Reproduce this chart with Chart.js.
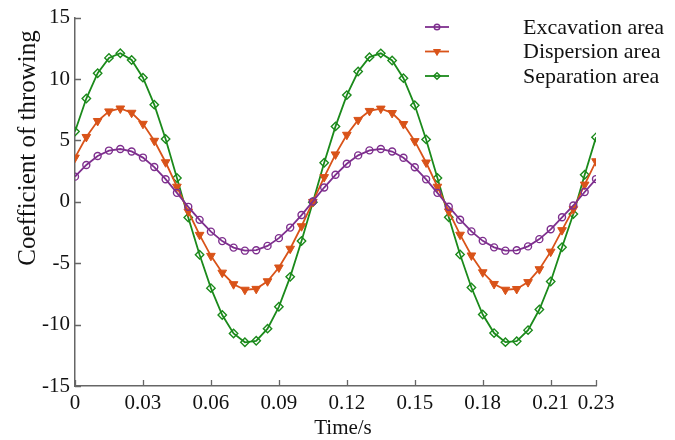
<!DOCTYPE html>
<html>
<head>
<meta charset="utf-8">
<script src="https://cdn.jsdelivr.net/npm/chart.js@4.4.1/dist/chart.umd.min.js"></script>
<style>
  html, body { margin: 0; padding: 0; background: #fff; }
  #wrap { width: 675px; height: 440px; }
</style>
</head>
<body>
<div id="wrap"><canvas id="chart" width="675" height="440"></canvas></div>
<script>
const TIME = [
  0, 0.005, 0.01, 0.015, 0.02, 0.025, 0.03, 0.035, 0.04, 0.045,
  0.05, 0.055, 0.06, 0.065, 0.07, 0.075, 0.08, 0.085, 0.09, 0.095,
  0.1, 0.105, 0.11, 0.115, 0.12, 0.125, 0.13, 0.135, 0.14, 0.145,
  0.15, 0.155, 0.16, 0.165, 0.17, 0.175, 0.18, 0.185, 0.19, 0.195,
  0.2, 0.205, 0.21, 0.215, 0.22, 0.225, 0.23
];
const EXCAVATION = [
  2.05, 3.00, 3.73, 4.17, 4.30, 4.10, 3.60, 2.83, 1.84, 0.73,
  -0.41, -1.47, -2.43, -3.20, -3.73, -3.98, -3.94, -3.59, -2.96, -2.10,
  -1.08, 0.03, 1.16, 2.20, 3.10, 3.78, 4.19, 4.30, 4.09, 3.59,
  2.81, 1.83, 0.73, -0.40, -1.46, -2.41, -3.18, -3.71, -3.98, -3.95,
  -3.63, -3.04, -2.24, -1.26, -0.30, 0.80, 1.85
];
const DISPERSION = [
  3.60, 5.28, 6.58, 7.36, 7.60, 7.25, 6.35, 4.97, 3.22, 1.23,
  -0.79, -2.69, -4.40, -5.77, -6.71, -7.16, -7.09, -6.47, -5.35, -3.82,
  -1.99, -0.01, 2.01, 3.86, 5.46, 6.67, 7.40, 7.59, 7.23, 6.33,
  4.94, 3.20, 1.23, -0.78, -2.68, -4.37, -5.74, -6.69, -7.16, -7.10,
  -6.54, -5.49, -4.06, -2.31, -0.60, 1.40, 3.30
];
const SEPARATION = [
  5.72, 8.41, 10.47, 11.72, 12.10, 11.55, 10.11, 7.91, 5.11, 1.94,
  -1.28, -4.31, -7.03, -9.22, -10.72, -11.44, -11.32, -10.33, -8.55, -6.11,
  -3.19, -0.03, 3.18, 6.14, 8.69, 10.61, 11.78, 12.09, 11.51, 10.07,
  7.86, 5.08, 1.94, -1.26, -4.29, -6.98, -9.18, -10.69, -11.43, -11.35,
  -10.45, -8.77, -6.49, -3.70, -1.00, 2.20, 5.25
];
const X_TICKS = [0, 0.03, 0.06, 0.09, 0.12, 0.15, 0.18, 0.21, 0.23];
const X_TICK_LABELS = ['0', '0.03', '0.06', '0.09', '0.12', '0.15', '0.18', '0.21', '0.23'];
const Y_TICKS = [-15, -10, -5, 0, 5, 10, 15];

const SERIES_NAMES = ['Excavation area', 'Dispersion area', 'Separation area'];
const COLORS = ['#7E2F8E', '#D95319', '#1B8A1B'];

const FONT = '"Liberation Serif", "Times New Roman", serif';
const AXIS_COLOR = '#666';

function points(values) {
  return TIME.map((t, i) => ({ x: t, y: values[i] }));
}

const markers = [
  { pointStyle: 'circle', radius: 3.5, rotation: 0, fill: 'rgba(255,255,255,0)', borderWidth: 1.4 },
  { pointStyle: 'triangle', radius: 5, rotation: 180, fill: COLORS[1], borderWidth: 1 },
  { pointStyle: 'rectRot', radius: 4.2, rotation: 0, fill: 'rgba(255,255,255,0)', borderWidth: 1.4 }
];

const datasets = [EXCAVATION, DISPERSION, SEPARATION].map((vals, i) => ({
  label: SERIES_NAMES[i],
  data: points(vals),
  borderColor: COLORS[i],
  borderWidth: 1.8,
  tension: 0,
  pointStyle: markers[i].pointStyle,
  pointRotation: markers[i].rotation,
  pointRadius: markers[i].radius,
  pointBackgroundColor: markers[i].fill,
  pointBorderColor: COLORS[i],
  pointBorderWidth: markers[i].borderWidth
}));

// inward tick marks, axis titles and the in-plot legend
const decorations = {
  id: 'decorations',
  afterDraw(chart) {
    const ctx = chart.ctx;
    const xs = chart.scales.x, ys = chart.scales.y;
    const area = chart.chartArea;
    ctx.save();
    ctx.strokeStyle = AXIS_COLOR;
    ctx.lineWidth = 1.3;
    ctx.beginPath();
    X_TICKS.forEach(v => {
      const px = Math.round(xs.getPixelForValue(v)) + 0.5;
      ctx.moveTo(px, area.bottom);
      ctx.lineTo(px, area.bottom - 6);
    });
    Y_TICKS.forEach(v => {
      const py = Math.round(ys.getPixelForValue(v)) + 0.5;
      ctx.moveTo(area.left, py);
      ctx.lineTo(area.left + 6, py);
    });
    ctx.stroke();

    ctx.fillStyle = '#111';
    ctx.font = '21px ' + FONT;
    ctx.textAlign = 'center';
    ctx.textBaseline = 'middle';
    ctx.fillText('Time/s', 343, 428);

    ctx.save();
    ctx.translate(28, 148);
    ctx.rotate(-Math.PI / 2);
    ctx.font = '25px ' + FONT;
    ctx.fillText('Coefficient of throwing', 0, 0);
    ctx.restore();

    ctx.font = '22px ' + FONT;
    ctx.textAlign = 'left';
    SERIES_NAMES.forEach((name, i) => {
      const y = 27 + 24.5 * i;
      ctx.strokeStyle = COLORS[i];
      ctx.lineWidth = 1.8;
      ctx.beginPath();
      ctx.moveTo(425, y);
      ctx.lineTo(449, y);
      ctx.stroke();
      ctx.fillStyle = markers[i].fill;
      ctx.strokeStyle = COLORS[i];
      ctx.lineWidth = markers[i].borderWidth;
      Chart.helpers.drawPoint(ctx, {
        pointStyle: markers[i].pointStyle,
        rotation: markers[i].rotation,
        radius: markers[i].radius * 0.8,
        borderWidth: markers[i].borderWidth
      }, 437, y);
      ctx.fillStyle = '#111';
      ctx.fillText(name, 523, y + 1);
    });
    ctx.restore();
  }
};

new Chart(document.getElementById('chart'), {
  type: 'line',
  data: { datasets: datasets },
  options: {
    responsive: false,
    animation: false,
    layout: { padding: { left: 0, right: 79, top: 16, bottom: 0 } },
    plugins: { legend: { display: false }, tooltip: { enabled: false } },
    scales: {
      x: {
        type: 'linear',
        min: 0,
        max: 0.23,
        afterBuildTicks: axis => { axis.ticks = X_TICKS.map(v => ({ value: v })); },
        afterFit: scale => { scale.height = 54; },
        grid: { display: false, drawTicks: false },
        border: { display: true, color: AXIS_COLOR, width: 1.5 },
        ticks: {
          autoSkip: false,
          maxRotation: 0,
          padding: 5,
          color: '#111',
          font: { family: FONT, size: 21 },
          callback: (value, index) => X_TICK_LABELS[index]
        }
      },
      y: {
        min: -15,
        max: 15,
        afterBuildTicks: axis => { axis.ticks = Y_TICKS.map(v => ({ value: v })); },
        afterFit: scale => { scale.width = 75; },
        grid: { display: false, drawTicks: false },
        border: { display: true, color: AXIS_COLOR, width: 1.5 },
        ticks: {
          padding: 5,
          color: '#111',
          font: { family: FONT, size: 21 }
        }
      }
    }
  },
  plugins: [decorations]
});
</script>
</body>
</html>
